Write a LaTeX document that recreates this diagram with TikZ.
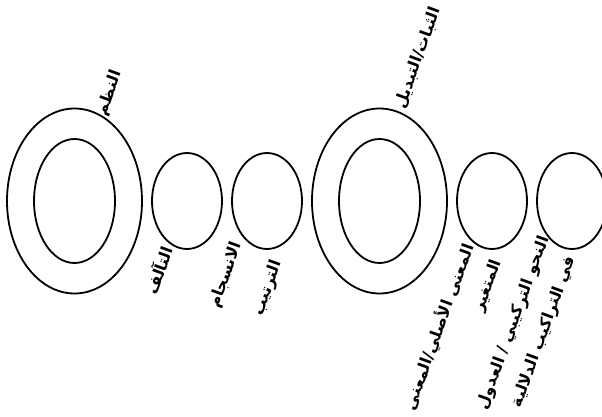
\documentclass[tikz,border=0pt]{standalone}
\usepackage{fontspec}
\newfontfamily\arabicfont[Script=Arabic]{DejaVu Sans}
\TeXXeTstate=1
\usetikzlibrary{shapes.geometric}
\begin{document}
\begin{tikzpicture}[x=1pt,y=-1pt]
	% Styles (MODIFIABLES)
	\tikzstyle{anneau}=[draw,ellipse,line width=1.8pt,inner sep=0pt]
	\tikzstyle{grand}=[anneau,minimum width=135pt,minimum height=185pt]
	\tikzstyle{noyau}=[anneau,minimum width=81pt,minimum height=124pt]
	\tikzstyle{petit}=[anneau,minimum width=70pt,minimum height=96pt]
	\tikzstyle{etiquette}=[rotate=70,inner sep=0pt,font=\arabicfont\bfseries\fontsize{16}{19}\selectfont]
	% Dimensions (MODIFIABLES)
	\def\Ligne{201}
	\def\ColA{74.5}
	\def\ColB{187}
	\def\ColC{267}
	\def\ColD{379.5}
	\def\ColE{492}
	\def\ColF{572}
	\useasboundingbox (0,0) rectangle (602,417);
	% Anneaux
	\node[grand] (G) at (\ColA,\Ligne) {};
	\node[noyau] (Gi) at (\ColA,\Ligne) {};
	\node[petit] (Ga) at (\ColB,\Ligne) {};
	\node[petit] (Gb) at (\ColC,\Ligne) {};
	\node[grand] (D) at (\ColD,\Ligne) {};
	\node[noyau] (Di) at (\ColD,\Ligne) {};
	\node[petit] (Da) at (\ColE,\Ligne) {};
	\node[petit] (Db) at (\ColF,\Ligne) {};
	% Etiquettes
	\node[etiquette] (tG) at (110,93) {\beginR النظم\endR};
	\node[etiquette] (tGa) at (158,270) {\beginR التآلف\endR};
	\node[etiquette] (tGb) at (226,275) {\beginR الانسجام\endR};
	\node[etiquette] (tGc) at (268,288) {\beginR الترتيب\endR};
	\node[etiquette] (tD) at (418,58) {\beginR الثبات/التبديل\endR};
	\node[etiquette] (tDa) at (439,327) {\beginR المعنى الأصلي/المعنى\endR};
	\node[etiquette] (tDb) at (488,286) {\beginR المتغير\endR};
	\node[etiquette] (tDc) at (514,323) {\beginR النحو التركيبي / العدول\endR};
	\node[etiquette] (tDd) at (544,332) {\beginR في التراكيب الدلالية\endR};
\end{tikzpicture}
\end{document}
